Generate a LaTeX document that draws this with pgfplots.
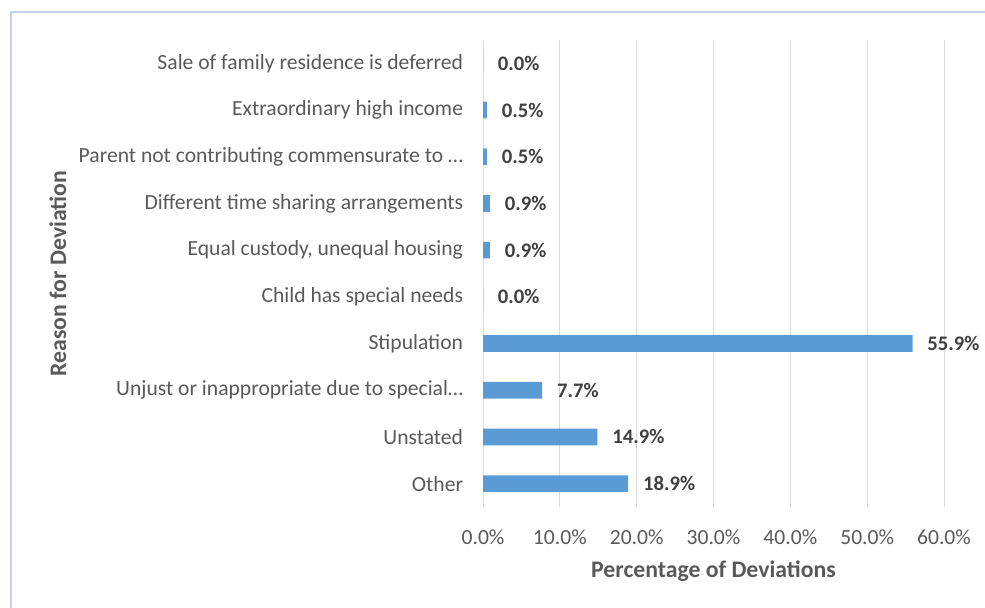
\documentclass[border=0pt]{standalone}
\usepackage{pgfplots}
\pgfplotsset{compat=1.18}
\usepackage{fontspec}
\setmainfont{Carlito}
\definecolor{barblue}{HTML}{5B9BD5}
\definecolor{txtgray}{HTML}{595959}
\definecolor{lblgray}{HTML}{404040}
\definecolor{gridgray}{HTML}{D9D9D9}
\definecolor{framecol}{HTML}{C5D3EA}
\begin{document}
\begin{tikzpicture}[x=0.75pt,y=0.75pt]
\useasboundingbox (0,0) rectangle (985,607);
\draw[framecol,line width=1.5pt] (10.5,-10) -- (10.5,595) -- (1000,595);
\begin{axis}[
	at={(362.25pt,75pt)}, anchor=south west,
	scale only axis,
	width=345.75pt, height=350.25pt,
	xbar, bar width=12.5pt,
	xmin=0, xmax=60,
	ymin=-0.5, ymax=9.5,
	xtick={0,10,...,60},
	ytick={0,...,9},
	yticklabels={Other,Unstated,Unjust or inappropriate due to special…,Stipulation,Child has special needs,{Equal custody, unequal housing},Different time sharing arrangements,Parent not contributing commensurate to …,Extraordinary high income,Sale of family residence is deferred},
	/pgf/number format/assume math mode=true,
	xticklabel={\pgfmathprintnumber[fixed,fixed zerofill,precision=1]{\tick}\%},
	tick style={draw=none},
	axis line style={draw=none},
	xmajorgrids, grid style={gridgray,line width=0.75pt},
	ticklabel style={font=\fontsize{16.2pt}{19pt}\selectfont, text=txtgray},
	yticklabel style={inner sep=0pt, xshift=-10.5pt},
	xticklabel style={anchor=center, yshift=-22.5pt},
	xlabel={Percentage of Deviations},
	ylabel={Reason for Deviation},
	label style={font=\bfseries\fontsize{17.8pt}{21pt}\selectfont, text=txtgray},
	xlabel style={at={(axis description cs:0.5,-0.137)}, anchor=center},
	ylabel style={at={(axis description cs:-0.922,0.5)}, anchor=center},
	point meta=x,
	nodes near coords={\pgfmathprintnumber[fixed,fixed zerofill,precision=1]{\pgfplotspointmeta}\%},
	nodes near coords style={anchor=west, inner sep=0pt, xshift=11pt, font=\bfseries\fontsize{15.5pt}{18pt}\selectfont, text=lblgray},
	clip=false,
]
\draw[gridgray,line width=0.75pt] (axis cs:0,-0.5) -- (axis cs:0,9.5);
\addplot[fill=barblue,draw=none] coordinates {
	(18.9,0) (14.9,1) (7.7,2) (55.9,3) (0.0,4)
	(0.9,5) (0.9,6) (0.5,7) (0.5,8) (0.0,9)};
\end{axis}
\end{tikzpicture}
\end{document}
